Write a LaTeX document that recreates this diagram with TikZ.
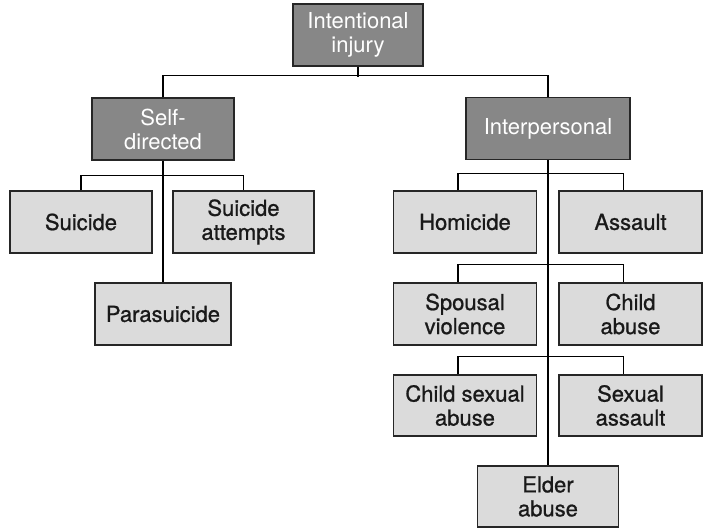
\documentclass[tikz,border=0pt]{standalone}
\usepackage{fontspec}
\setmainfont{TeX Gyre Heros}
\newfontfamily\boxfont{TeX Gyre Heros}[BoldFont=TeX Gyre Heros,BoldFeatures={FakeBold=0.9}]
\begin{document}
\begin{tikzpicture}[x=1pt,y=-1pt,
        darkbox/.style={draw=black!85,line width=1.2pt,fill=black!47,text=white,minimum height=62pt,inner sep=0pt,align=center,font=\fontsize{22}{24}\selectfont},
        lightbox/.style={draw=black!85,line width=1.2pt,fill=black!14,text=black!90,minimum height=62pt,inner sep=0pt,align=center,font=\boxfont\bfseries\fontsize{22}{24}\selectfont},
        link/.style={line width=1.5pt}]
            \useasboundingbox (0,0) rectangle (705,528);
            \node[darkbox,minimum width=130pt] (injury) at (358,35) {Intentional\\injury};
            \node[darkbox,minimum width=142pt] (self) at (163,129) {Self-\\directed};
            \node[darkbox,minimum width=164pt] (inter) at (548,128.5) {Interpersonal};
            \node[lightbox,minimum width=142pt] (suicide) at (81,222) {Suicide};
            \node[lightbox,minimum width=141pt] (attempt) at (243.5,222) {Suicide\\attempts};
            \node[lightbox,minimum width=136pt] (para) at (163,314) {Parasuicide};
            \node[lightbox,minimum width=143pt] (homicide) at (465,222) {Homicide};
            \node[lightbox,minimum width=143pt] (assault) at (630.5,222) {Assault};
            \node[lightbox,minimum width=143pt] (spousal) at (465,314) {Spousal\\violence};
            \node[lightbox,minimum width=143pt] (child) at (630.5,314) {Child\\abuse};
            \node[lightbox,minimum width=143pt,minimum height=61pt] (childsex) at (465,405.5) {Child sexual\\abuse};
            \node[lightbox,minimum width=143pt,minimum height=61pt] (sexual) at (630.5,405.5) {Sexual\\assault};
            \node[lightbox,minimum width=141pt,minimum height=61pt] (elder) at (548,496.5) {Elder\\abuse};
            \draw[link] (injury.south) -- ++(0,10);
            \draw[link] (self.north) -- ++(0,-22) -| (inter.north);
            \draw[link] (self.south) -- (para.north);
            \draw[link] (suicide.north) -- ++(0,-15) -| (attempt.north);
            \draw[link] (inter.south) -- (elder.north);
            \draw[link] ([xshift=-7pt]homicide.north) -- ++(0,-17) -| ([xshift=-7pt]assault.north);
            \draw[link] ([xshift=-7pt]spousal.north) -- ++(0,-18) -| ([xshift=-7pt]child.north);
            \draw[link] ([xshift=-7pt]childsex.north) -- ++(0,-18) -| ([xshift=-7pt]sexual.north);
        \end{tikzpicture}
\end{document}
